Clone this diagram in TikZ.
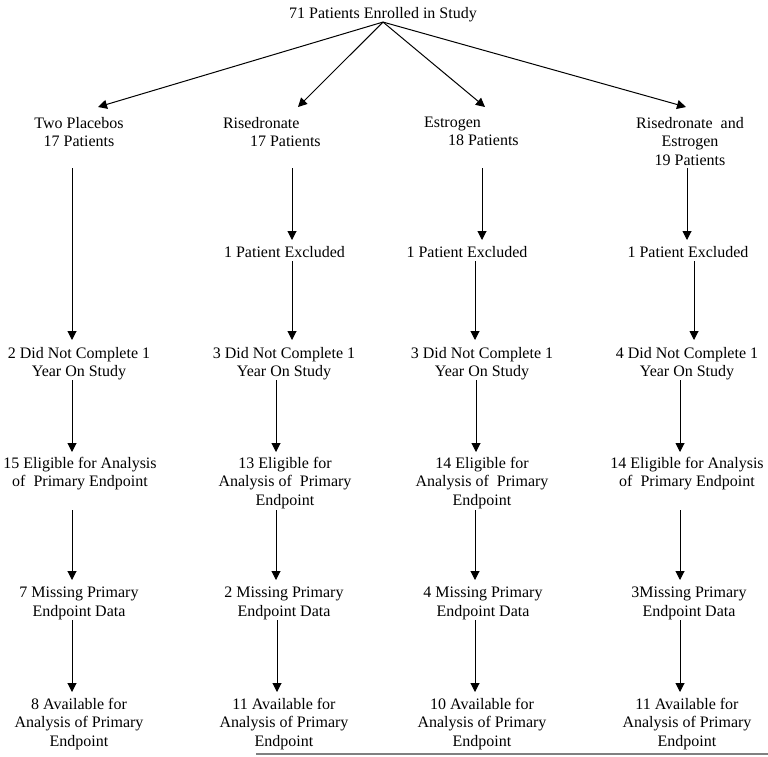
\documentclass[tikz,border=0pt]{standalone}
\usepackage{fontspec}
\setmainfont{Liberation Serif}
\usetikzlibrary{arrows.meta}
\begin{document}
\begin{tikzpicture}[x=1pt,y=-1pt,
  lbl/.style={inner sep=0pt,outer sep=0pt,align=center,anchor=north,font=\fontsize{16}{18.5}\selectfont},
  lbll/.style={lbl,align=left,anchor=north west},
  arr/.style={line width=1pt,-{Triangle[length=9pt,width=9pt]}}]
\useasboundingbox (0,0) rectangle (768,756);
% top
\node[lbl] (t) at (383,7.5) {71 Patients Enrolled in Study};
% groups
\node[lbl] (g1) at (79,117) {Two Placebos\\17 Patients};
\node[lbll] (g2) at (223,117) {Risedronate\\\hspace*{27pt}17 Patients};
\node[lbll] (g3) at (424,117) {Estrogen\\\hspace*{24pt}18 Patients};
\node[lbl] (g4) at (690,117) {Risedronate\ \ and\\Estrogen\\19 Patients};
% excluded
\node[lbl] (x2) at (284.5,246) {1 Patient Excluded};
\node[lbl] (x3) at (467,246) {1 Patient Excluded};
\node[lbl] (x4) at (688,246) {1 Patient Excluded};
% did not complete
\node[lbl] (d1) at (79,347) {2 Did Not Complete 1\\Year On Study};
\node[lbl] (d2) at (284,347) {3 Did Not Complete 1\\Year On Study};
\node[lbl] (d3) at (482,347) {3 Did Not Complete 1\\Year On Study};
\node[lbl] (d4) at (687,347) {4 Did Not Complete 1\\Year On Study};
% eligible
\node[lbl] (e1) at (80,457) {15 Eligible for Analysis\\of\ \ Primary Endpoint};
\node[lbl] (e2) at (285,457) {13 Eligible for\\Analysis of\ \ Primary\\Endpoint};
\node[lbl] (e3) at (482,457) {14 Eligible for\\Analysis of\ \ Primary\\Endpoint};
\node[lbl] (e4) at (687,457) {14 Eligible for Analysis\\of\ \ Primary Endpoint};
% missing
\node[lbl] (m1) at (79,587) {7 Missing Primary\\Endpoint Data};
\node[lbl] (m2) at (284,587) {2 Missing Primary\\Endpoint Data};
\node[lbl] (m3) at (483,587) {4 Missing Primary\\Endpoint Data};
\node[lbl] (m4) at (689,587) {3Missing Primary\\Endpoint Data};
% available
\node[lbl] (a1) at (79,698) {8 Available for\\Analysis of Primary\\Endpoint};
\node[lbl] (a2) at (284,698) {11 Available for\\Analysis of Primary\\Endpoint};
\node[lbl] (a3) at (482,698) {10 Available for\\Analysis of Primary\\Endpoint};
\node[lbl] (a4) at (687,698) {11 Available for\\Analysis of Primary\\Endpoint};
% top arrows
\draw[arr] (t.south) -- ([xshift=19pt,yshift=10pt]g1.north);
\draw[arr] (t.south) -- ([xshift=75pt,yshift=10pt]g2.north west);
\draw[arr] (t.south) -- ([xshift=61pt,yshift=10pt]g3.north west);
\draw[arr] (t.south) -- ([xshift=-4pt,yshift=10pt]g4.north);
% group -> next
\draw[arr] ([xshift=-7pt,yshift=-51pt]g1.north) -- ([xshift=-7pt,yshift=7pt]d1.north);
\draw[arr] ([xshift=69pt,yshift=-51pt]g2.north west) -- ([xshift=7.5pt,yshift=6pt]x2.north);
\draw[arr] ([xshift=58pt,yshift=-51pt]g3.north west) -- ([xshift=15pt,yshift=6pt]x3.north);
\draw[arr] ([xshift=-3pt,yshift=-51pt]g4.north) -- ([xshift=-1pt,yshift=6pt]x4.north);
% excluded -> did not complete
\draw[arr] ([xshift=7.5pt,yshift=-15pt]x2.north) -- ([xshift=8pt,yshift=7pt]d2.north);
\draw[arr] ([xshift=8pt,yshift=-15pt]x3.north) -- ([xshift=-7pt,yshift=7pt]d3.north);
\draw[arr] ([xshift=6pt,yshift=-15pt]x4.north) -- ([xshift=7pt,yshift=7pt]d4.north);
% did not complete -> eligible
\draw[arr] ([xshift=-7pt,yshift=-33pt]d1.north) -- ([xshift=-8pt,yshift=5pt]e1.north);
\draw[arr] ([xshift=-8pt,yshift=-33pt]d2.north) -- ([xshift=-9pt,yshift=5pt]e2.north);
\draw[arr] ([xshift=-6pt,yshift=-33pt]d3.north) -- ([xshift=-6pt,yshift=5pt]e3.north);
\draw[arr] ([xshift=-7pt,yshift=-33pt]d4.north) -- ([xshift=-7pt,yshift=5pt]e4.north);
% eligible -> missing
\draw[arr] ([xshift=-8pt,yshift=-53pt]e1.north) -- ([xshift=-7pt,yshift=7pt]m1.north);
\draw[arr] ([xshift=-9pt,yshift=-53pt]e2.north) -- ([xshift=-8pt,yshift=7pt]m2.north);
\draw[arr] ([xshift=-7pt,yshift=-53pt]e3.north) -- ([xshift=-8pt,yshift=7pt]m3.north);
\draw[arr] ([xshift=-7pt,yshift=-53pt]e4.north) -- ([xshift=-9pt,yshift=7pt]m4.north);
% missing -> available
\draw[arr] ([xshift=-7pt,yshift=-33pt]m1.north) -- ([xshift=-7pt,yshift=6pt]a1.north);
\draw[arr] ([xshift=-7pt,yshift=-33pt]m2.north) -- ([xshift=-7pt,yshift=6pt]a2.north);
\draw[arr] ([xshift=-8pt,yshift=-33pt]m3.north) -- ([xshift=-7pt,yshift=6pt]a3.north);
\draw[arr] ([xshift=-9pt,yshift=-33pt]m4.north) -- ([xshift=-7pt,yshift=6pt]a4.north);
% bottom rule
\draw[gray,line width=1.5pt] (256,754) -- (768,754);
\end{tikzpicture}
\end{document}
